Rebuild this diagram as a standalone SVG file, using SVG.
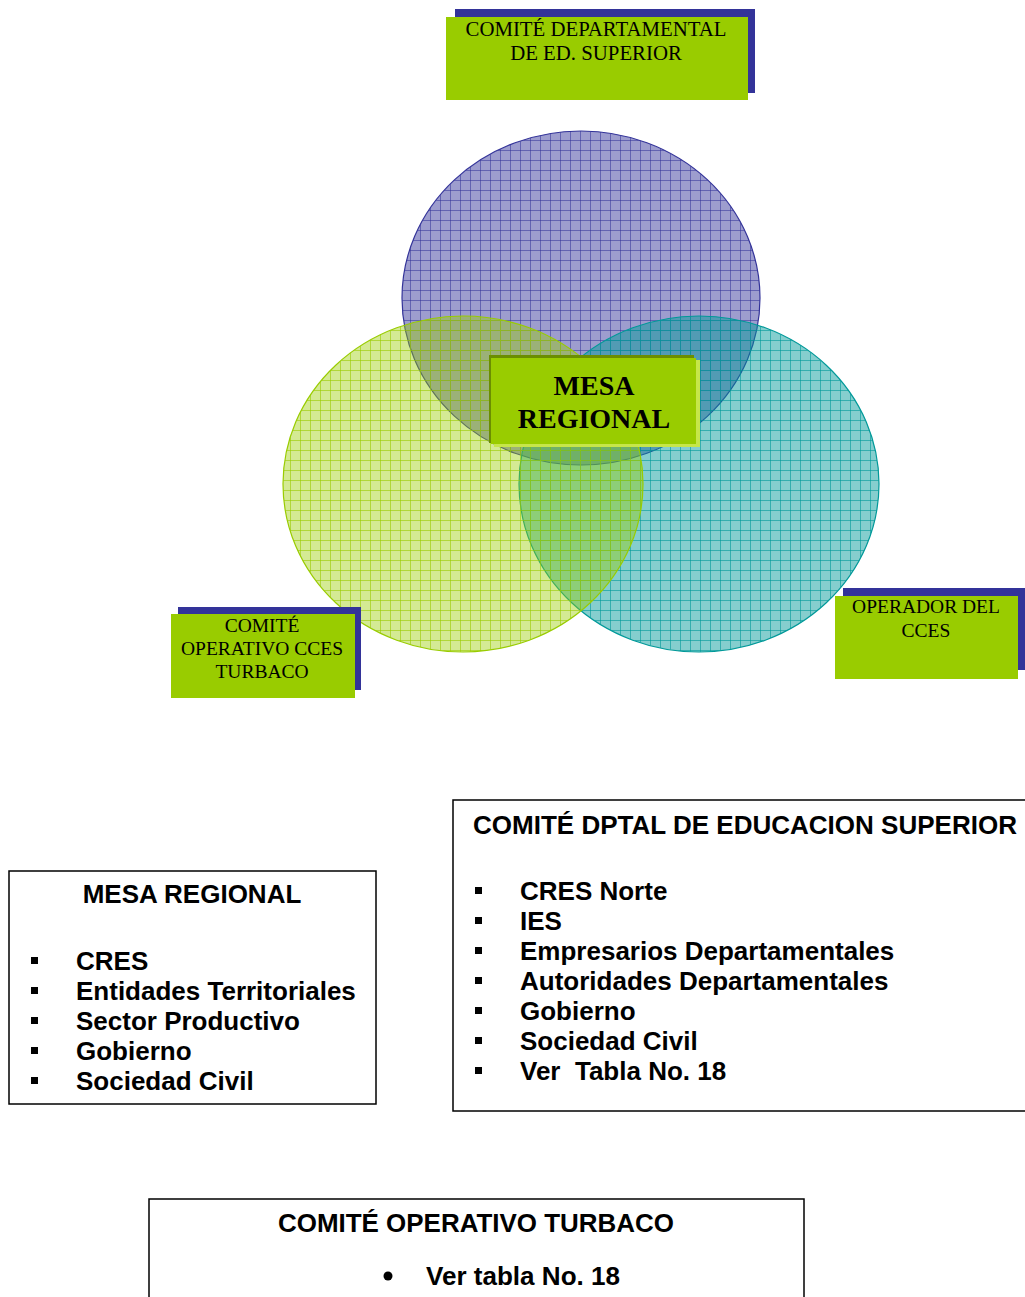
<svg xmlns="http://www.w3.org/2000/svg" width="1025" height="1297" viewBox="0 0 1025 1297">
<style>
.lbl{font-family:"Liberation Serif","Times New Roman",serif;font-size:19.5px;fill:#000;text-anchor:middle}
.lbl2{font-family:"Liberation Serif","Times New Roman",serif;font-size:20.8px;fill:#000;text-anchor:middle}
.big{font-family:"Liberation Serif","Times New Roman",serif;font-size:28px;font-weight:bold;fill:#000;text-anchor:middle}
.t{font-family:"Liberation Sans",Arial,sans-serif;font-size:26px;font-weight:bold;fill:#000}
.box{fill:#fff;stroke:#000;stroke-width:1.5}
.shadow{fill:#333399}
.tag{fill:#99cc00}
</style>
<defs>
<pattern id="pBlue" patternUnits="userSpaceOnUse" width="10" height="10">
<rect width="10" height="10" fill="#333399" fill-opacity="0.48"/>
<path d="M0 0.5H10M0.5 0V10" stroke="#333399" stroke-opacity="0.55" stroke-width="1"/>
</pattern>
<pattern id="pGreen" patternUnits="userSpaceOnUse" width="10" height="10">
<rect width="10" height="10" fill="#99cc00" fill-opacity="0.42"/>
<path d="M0 0.5H10M0.5 0V10" stroke="#99cc00" stroke-opacity="0.6" stroke-width="1"/>
</pattern>
<pattern id="pTeal" patternUnits="userSpaceOnUse" width="10" height="10">
<rect width="10" height="10" fill="#009999" fill-opacity="0.48"/>
<path d="M0 0.5H10M0.5 0V10" stroke="#009999" stroke-opacity="0.6" stroke-width="1"/>
</pattern>
</defs>

<g id="circles">
<ellipse id="circle-top" cx="581" cy="298" rx="179" ry="167" fill="url(#pBlue)" stroke="#333399" stroke-width="1.2"/>
<ellipse id="circle-right" cx="699" cy="484" rx="180" ry="168" fill="url(#pTeal)" stroke="#009999" stroke-width="1.2"/>
<ellipse id="circle-left" cx="463" cy="484" rx="180" ry="168" fill="url(#pGreen)" stroke="#99cc00" stroke-width="1.2"/>
</g>

<g id="connectors"></g>

<g id="node-comite-dep">
<rect class="shadow" x="455" y="9" width="300" height="84"/>
<rect class="tag" x="446" y="17" width="302" height="83"/>
<text class="lbl2" x="596" y="36">COMITÉ DEPARTAMENTAL</text>
<text class="lbl2" x="596" y="60">DE ED. SUPERIOR</text>
</g>

<g id="node-mesa">
<rect x="489" y="355" width="205" height="88" fill="#6b8e00"/>
<rect x="494" y="360" width="206" height="87" fill="#c6e64a"/>
<rect x="491" y="358" width="205" height="86" fill="#99cc00"/>
<text class="big" x="594" y="395">MESA</text>
<text class="big" x="594" y="428">REGIONAL</text>
</g>

<g id="node-comite-op">
<rect class="shadow" x="178" y="607" width="183" height="83"/>
<rect class="tag" x="171" y="614" width="184" height="84"/>
<text class="lbl" x="262" y="632">COMITÉ</text>
<text class="lbl" x="262" y="655">OPERATIVO CCES</text>
<text class="lbl" x="262" y="678">TURBACO</text>
</g>

<g id="node-operador">
<rect class="shadow" x="843" y="588" width="185" height="82"/>
<rect class="tag" x="835" y="596" width="183" height="83"/>
<text class="lbl" x="926" y="613">OPERADOR DEL</text>
<text class="lbl" x="926" y="637">CCES</text>
</g>

<g id="box-mesa-regional">
<rect class="box" x="9" y="871" width="367" height="233"/>
<text class="t" x="192" y="903" text-anchor="middle">MESA REGIONAL</text>
<g fill="#000">
<rect x="31" y="957" width="7" height="7"/>
<rect x="31" y="987" width="7" height="7"/>
<rect x="31" y="1017" width="7" height="7"/>
<rect x="31" y="1047" width="7" height="7"/>
<rect x="31" y="1077" width="7" height="7"/>
</g>
<text class="t" x="76" y="970">CRES</text>
<text class="t" x="76" y="1000">Entidades Territoriales</text>
<text class="t" x="76" y="1030">Sector Productivo</text>
<text class="t" x="76" y="1060">Gobierno</text>
<text class="t" x="76" y="1090">Sociedad Civil</text>
</g>

<g id="box-comite-dptal">
<rect class="box" x="453" y="800" width="590" height="311"/>
<text class="t" x="473" y="834" textLength="544" lengthAdjust="spacingAndGlyphs">COMITÉ DPTAL DE EDUCACION SUPERIOR</text>
<g fill="#000">
<rect x="475" y="887" width="7" height="7"/>
<rect x="475" y="917" width="7" height="7"/>
<rect x="475" y="947" width="7" height="7"/>
<rect x="475" y="977" width="7" height="7"/>
<rect x="475" y="1007" width="7" height="7"/>
<rect x="475" y="1037" width="7" height="7"/>
<rect x="475" y="1067" width="7" height="7"/>
</g>
<text class="t" x="520" y="900">CRES Norte</text>
<text class="t" x="520" y="930">IES</text>
<text class="t" x="520" y="960">Empresarios Departamentales</text>
<text class="t" x="520" y="990">Autoridades Departamentales</text>
<text class="t" x="520" y="1020">Gobierno</text>
<text class="t" x="520" y="1050">Sociedad Civil</text>
<text class="t" x="520" y="1080" xml:space="preserve">Ver  Tabla No. 18</text>
</g>

<g id="box-comite-turbaco">
<rect class="box" x="149" y="1199" width="655" height="110"/>
<text class="t" x="278" y="1232" textLength="396" lengthAdjust="spacingAndGlyphs">COMITÉ OPERATIVO TURBACO</text>
<circle cx="388" cy="1276" r="4.5" fill="#000"/>
<text class="t" x="426" y="1285" textLength="194" lengthAdjust="spacingAndGlyphs">Ver tabla No. 18</text>
</g>
</svg>
